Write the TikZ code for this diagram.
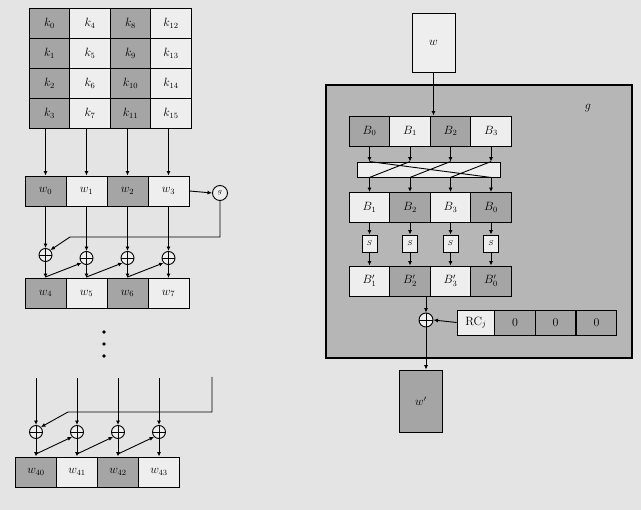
\documentclass[tikz,border=0pt]{standalone}
\usetikzlibrary{arrows.meta}
\definecolor{bgc}{RGB}{228,228,228}
\definecolor{ltc}{RGB}{238,238,238}
\definecolor{dkc}{RGB}{165,165,165}
\definecolor{gbc}{RGB}{182,182,182}
\begin{document}
\begin{tikzpicture}[x=1pt,y=-1pt,
  cellbox/.style={draw, line width=0.9pt, minimum width=40.5pt, minimum height=30pt, inner sep=0pt, font=\large},
  dk/.style={cellbox, fill=dkc},
  lt/.style={cellbox, fill=ltc},
  xr/.style={draw, circle, line width=0.9pt, minimum size=13pt, inner sep=0pt, fill=ltc,
    path picture={\draw[line width=0.7pt] (path picture bounding box.north) -- (path picture bounding box.south)
      (path picture bounding box.west) -- (path picture bounding box.east);}},
  arr/.style={-{Latex[length=4.5pt,width=4pt]}, line width=0.9pt},
  ln/.style={line width=0.9pt}]
\fill[bgc] (0,0) rectangle (641,510);
\useasboundingbox (0,0) rectangle (641,510);

% ---------- key matrix ----------
\foreach \c/\st in {0/dk,1/lt,2/dk,3/lt}{
  \foreach \r in {0,...,3}{
    \pgfmathtruncatemacro\idx{4*\c+\r}
    \node[\st] (k\idx) at (49.5+40.5*\c, 23+30*\r) {$k_{\idx}$};
  }
}

% ---------- first word row ----------
\foreach \i/\st in {0/dk,1/lt,2/dk,3/lt}{
  \node[\st, minimum width=41pt] (w\i) at (45.5+41*\i, 191) {$w_{\i}$};
}
\foreach \i/\k in {0/3,1/7,2/11,3/15}{
  \draw[arr] (w\i |- k\k.south) -- (w\i.north);
}
\node[draw, circle, line width=0.9pt, minimum size=15pt, inner sep=0pt, fill=ltc, font=\scriptsize] (g) at (220,193) {$g$};
\draw[arr] (w3.east) -- (g.west);

% xors
\foreach \i/\yy in {0/255,1/258,2/258,3/258}{
  \node[xr] (x\i) at (45.5+41*\i, \yy) {};
}
\foreach \i/\st in {0/dk,1/lt,2/dk,3/lt}{
  \pgfmathtruncatemacro\nn{\i+4}
  \node[\st, minimum width=41pt] (w\nn) at (45.5+41*\i, 293.5) {$w_{\nn}$};
  \draw[arr] (w\i.south) -- (x\i.north);
  \draw[arr] (x\i.south) -- (w\nn.north);
  \coordinate (d\i) at (45.5+41*\i, 277);
}
\draw[arr] (g.south) |- (70,237) -- (x0.north east);
\foreach \i/\j in {0/1,1/2,2/3}{
  \draw[arr] (d\i) -- (x\j.south west);
}

% dots
\foreach \yy/\nm in {332/p1,344/p2,356/p3}{
  \fill (104,\yy) circle (1.9pt) coordinate (\nm);
}

% ---------- last word row ----------
\foreach \i in {0,...,3}{
  \coordinate (t\i) at (36+41*\i, 378);
  \node[xr] (y\i) at (36+41*\i, 432) {};
  \coordinate (e\i) at (36+41*\i, 454);
}
\foreach \i/\st in {0/dk,1/lt,2/dk,3/lt}{
  \pgfmathtruncatemacro\nn{\i+40}
  \node[\st, minimum width=41pt] (w\nn) at (36+41*\i, 472) {$w_{\nn}$};
  \draw[arr] (t\i) -- (y\i.north);
  \draw[arr] (y\i.south) -- (w\nn.north);
}
\coordinate (tr) at (212,377);
\draw[arr] (tr) |- (68,412) -- (y0.north east);
\foreach \i/\j in {0/1,1/2,2/3}{
  \draw[arr] (e\i) -- (y\j.south west);
}

% ---------- right side: function g ----------
\node[lt, minimum width=43pt, minimum height=59pt] (win) at (433.5,42.5) {$w$};
\node[draw, line width=1.1pt, fill=gbc, minimum width=306pt, minimum height=273pt, inner sep=0pt] (gbox) at (479,221.5) {};
\node[font=\large] (glab) at (588,108) {$g$};

\foreach \p/\b/\st in {0/0/dk,1/1/lt,2/2/dk,3/3/lt}{
  \node[\st] (b\p) at (369.5+40.5*\p, 131) {$B_{\b}$};
}
\draw[arr] (win.south) -- (win.south |- b0.north);

\node[draw, line width=0.9pt, fill=ltc, minimum width=143pt, minimum height=15pt, inner sep=0pt] (perm) at (428.5,169.5) {};

\foreach \p/\b/\st in {0/1/lt,1/2/dk,2/3/lt,3/0/dk}{
  \node[\st] (r\p) at (369.5+40.5*\p, 207.5) {$B_{\b}$};
  \node[draw, line width=0.9pt, fill=ltc, minimum width=15pt, minimum height=17pt, inner sep=0pt, font=\scriptsize] (s\p) at (369.5+40.5*\p, 243.5) {$S$};
  \node[\st] (q\p) at (369.5+40.5*\p, 281) {$B_{\b}'$};
}
\foreach \p in {0,...,3}{
  \draw[arr] (b\p.south) -- (b\p.south |- perm.north);
  \draw[arr] (r\p.north |- perm.south) -- (r\p.north);
  \draw[arr] (r\p.south) -- (s\p.north);
  \draw[arr] (s\p.south) -- (q\p.north);
}
\draw[ln] (b1 |- perm.north) -- (r0 |- perm.south)
          (b2 |- perm.north) -- (r1 |- perm.south)
          (b3 |- perm.north) -- (r2 |- perm.south)
          (b0 |- perm.north) -- (r3 |- perm.south);

\node[xr, minimum size=14pt] (xo) at (426,320) {};
\node[lt, minimum width=38pt, minimum height=25pt] (rc) at (476,322.5) {RC$_j$};
\foreach \i/\xx in {1/515,2/555.5,3/596.5}{
  \node[dk, minimum height=25pt] (z\i) at (\xx,322.5) {$0$};
}
\draw[arr] (xo.north |- q1.south) -- (xo.north);
\draw[arr] (rc.west) -- (xo.east);
\node[draw, line width=0.9pt, fill=dkc, minimum width=43pt, minimum height=62pt, inner sep=0pt, font=\large] (wp) at (421,401) {$w'$};
\draw[arr] (xo.south) -- (xo.south |- wp.north);
\end{tikzpicture}
\end{document}
